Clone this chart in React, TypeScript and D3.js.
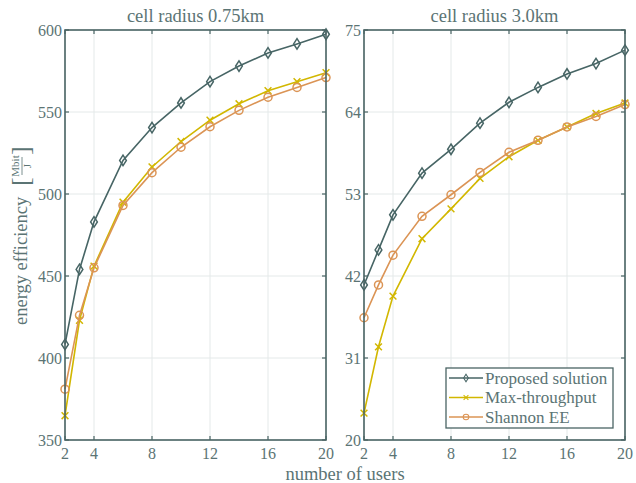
import React from "react";
import * as d3 from "d3";

const users = [2, 3, 4, 6, 8, 10, 12, 14, 16, 18, 20];
const xTicks = [2, 4, 8, 12, 16, 20];

const leftProposed = [408.3, 454, 483, 520.5, 540.5, 555.5, 568.5, 578, 586, 591.5, 597.4];
const leftMaxTp = [364.8, 423, 456, 495, 516.5, 532, 545, 555, 563, 568.5, 574];
const leftShannon = [381, 426, 455, 493, 513, 528.5, 541, 551, 559, 565, 571];
const leftYTicks = [350, 400, 450, 500, 550, 600];

const rightProposed = [40.8, 45.5, 50.2, 55.8, 59.0, 62.5, 65.3, 67.3, 69.1, 70.5, 72.3];
const rightMaxTp = [23.6, 32.5, 39.3, 47.0, 51.0, 55.1, 58.0, 60.2, 62.0, 63.8, 65.2];
const rightShannon = [36.4, 40.8, 44.8, 50.0, 52.9, 55.9, 58.6, 60.2, 62.0, 63.4, 65.0];
const rightYTicks = [20, 31, 42, 53, 64, 75];

const seriesNames = ["Proposed solution", "Max-throughput", "Shannon EE"];
const titles = ["cell radius 0.75km", "cell radius 3.0km"];

const COLORS = ["#476565", "#d2b700", "#db9455"];
const AXIS = "#4a6464";
const TEXT = "#5b7474";
const GRID = "#e4e9e9";
const FONT = "'Liberation Serif', 'Times New Roman', serif";

const TOP = 30;
const BOTTOM = 440;

function Marker({ kind, x, y, color }: { kind: number; x: number; y: number; color: string }) {
  if (kind === 0) {
    const s = 4.2;
    return (
      <path
        d={`M${x},${y - s * 1.25} L${x + s * 0.8},${y} L${x},${y + s * 1.25} L${x - s * 0.8},${y} Z`}
        fill="none"
        stroke={color}
        strokeWidth={1.5}
      />
    );
  }
  if (kind === 1) {
    const s = 3.4;
    return (
      <path
        d={`M${x - s},${y - s} L${x + s},${y + s} M${x - s},${y + s} L${x + s},${y - s}`}
        stroke={color}
        strokeWidth={1.5}
      />
    );
  }
  return <circle cx={x} cy={y} r={4} fill="none" stroke={color} strokeWidth={1.5} />;
}

function Panel({
  x0,
  x1,
  yDomain,
  yTicks,
  series,
  title,
  legend,
}: {
  x0: number;
  x1: number;
  yDomain: [number, number];
  yTicks: number[];
  series: number[][];
  title: string;
  legend?: boolean;
}) {
  const xs = d3.scaleLinear().domain([2, 20]).range([x0, x1]);
  const ys = d3.scaleLinear().domain(yDomain).range([BOTTOM, TOP]);
  const line = d3
    .line<number>()
    .x((_, i) => xs(users[i]))
    .y((d) => ys(d));
  const tl = 4;
  return (
    <g>
      {xTicks.map((t) => (
        <line key={"gx" + t} x1={xs(t)} x2={xs(t)} y1={TOP} y2={BOTTOM} stroke={GRID} strokeWidth={1} />
      ))}
      {yTicks.map((t) => (
        <line key={"gy" + t} x1={x0} x2={x1} y1={ys(t)} y2={ys(t)} stroke={GRID} strokeWidth={1} />
      ))}
      {[1, 2, 0].map((si) => (
        <g key={"s" + si}>
          <path d={line(series[si]) || ""} fill="none" stroke={COLORS[si]} strokeWidth={1.6} />
          {series[si].map((v, i) => (
            <Marker key={i} kind={si} x={xs(users[i])} y={ys(v)} color={COLORS[si]} />
          ))}
        </g>
      ))}
      <rect x={x0} y={TOP} width={x1 - x0} height={BOTTOM - TOP} fill="none" stroke={AXIS} strokeWidth={1.6} />
      {xTicks.map((t) => (
        <g key={"tx" + t}>
          <line x1={xs(t)} x2={xs(t)} y1={BOTTOM} y2={BOTTOM - tl} stroke={AXIS} strokeWidth={1.2} />
          <line x1={xs(t)} x2={xs(t)} y1={TOP} y2={TOP + tl} stroke={AXIS} strokeWidth={1.2} />
          <text x={xs(t)} y={BOTTOM + 19} textAnchor="middle" fontSize={16} fill={TEXT} fontFamily={FONT}>
            {t}
          </text>
        </g>
      ))}
      {yTicks.map((t) => (
        <g key={"ty" + t}>
          <line x1={x0} x2={x0 + tl} y1={ys(t)} y2={ys(t)} stroke={AXIS} strokeWidth={1.2} />
          <line x1={x1} x2={x1 - tl} y1={ys(t)} y2={ys(t)} stroke={AXIS} strokeWidth={1.2} />
          <text x={x0 - 3} y={ys(t) + 5.5} textAnchor="end" fontSize={16} fill={TEXT} fontFamily={FONT}>
            {t}
          </text>
        </g>
      ))}
      <text x={(x0 + x1) / 2} y={22} textAnchor="middle" fontSize={18.5} fill={TEXT} fontFamily={FONT}>
        {title}
      </text>
      {legend && (
        <g>
          <rect x={446} y={368} width={167} height={60} fill="white" stroke={AXIS} strokeWidth={1.3} />
          {seriesNames.map((n, i) => {
            const y = 378 + i * 19.5;
            return (
              <g key={n}>
                <line x1={449} x2={483} y1={y} y2={y} stroke={COLORS[i]} strokeWidth={1.6} />
                <g transform={`translate(${466},${y}) scale(0.7) translate(${-466},${-y})`}>
                  <Marker kind={i} x={466} y={y} color={COLORS[i]} />
                </g>
                <text x={485} y={y + 5.5} fontSize={17} fill={TEXT} fontFamily={FONT}>
                  {n}
                </text>
              </g>
            );
          })}
        </g>
      )}
    </g>
  );
}

export default function App() {
  return (
    <svg width={636} height={483} style={{ position: "absolute", left: 0, top: 0, background: "white" }}>
      <rect x={0} y={0} width={636} height={483} fill="white" />
      <Panel
        x0={65}
        x1={326}
        yDomain={[350, 600]}
        yTicks={leftYTicks}
        series={[leftProposed, leftMaxTp, leftShannon]}
        title={titles[0]}
      />
      <Panel
        x0={364}
        x1={625}
        yDomain={[20, 75]}
        yTicks={rightYTicks}
        series={[rightProposed, rightMaxTp, rightShannon]}
        title={titles[1]}
        legend
      />
      <text x={345} y={480} textAnchor="middle" fontSize={18.5} fill={TEXT} fontFamily={FONT}>
        number of users
      </text>
      <g transform="translate(27,325) rotate(-90)" fill={TEXT} fontFamily={FONT}>
        <text x={0} y={0} fontSize={18.5}>
          energy efficiency
        </text>
        <text x={139} y={2} fontSize={26} fontWeight={300}>
          [
        </text>
        <text x={159} y={-8} fontSize={11} textAnchor="middle">
          Mbit
        </text>
        <line x1={150} x2={168} y1={-5} y2={-5} stroke={TEXT} strokeWidth={0.8} />
        <text x={159} y={4} fontSize={11} textAnchor="middle">
          J
        </text>
        <text x={170} y={2} fontSize={26} fontWeight={300}>
          ]
        </text>
      </g>
    </svg>
  );
}
